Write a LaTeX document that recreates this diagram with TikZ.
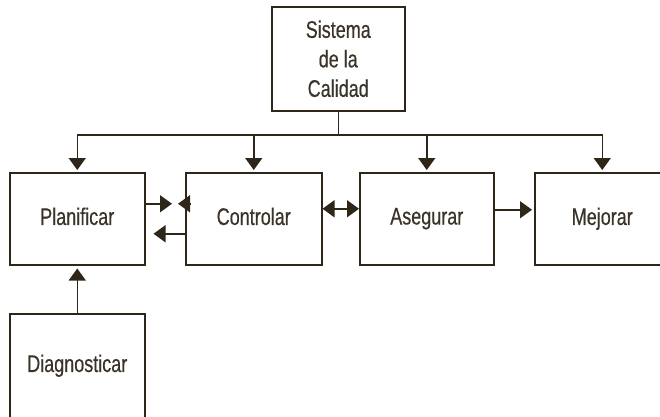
\documentclass[tikz,border=0pt]{standalone}
\usepackage{fontspec}
\setmainfont[FakeStretch=0.75,FakeBold=0.4]{Liberation Sans}
\usetikzlibrary{arrows.meta}
\definecolor{ln}{HTML}{2E2618}
\definecolor{tx}{HTML}{3A3329}
\newcommand{\up}[1]{\raisebox{5pt}{#1}}
\begin{document}
\begin{tikzpicture}[x=1pt,y=-1pt,
  box/.style={draw=ln, line width=1.5pt, minimum width=135pt, minimum height=92pt, inner sep=0pt, text=tx, font=\fontsize{24}{29.5}\selectfont, align=center, anchor=north west},
  conn/.style={draw=ln, line width=1.5pt},
  arr/.style={conn, -{Triangle[length=12pt,width=17pt]}},
  darr/.style={conn, {Triangle[length=12pt,width=17pt]}-{Triangle[length=12pt,width=17pt]}},
]
\useasboundingbox (0,0) rectangle (660,416);
\node[box, minimum width=133pt, minimum height=104pt] (sis) at (271,6) {Sistema\\de la\\Calidad};
\node[box] (pla) at (9,172) {\up{Planificar}};
\node[box, minimum width=136pt] (con) at (185,172) {\up{Controlar}};
\node[box, minimum width=134pt] (ase) at (359,172) {\up{Asegurar}};
\node[box] (mej) at (534,172) {\up{Mejorar}};
\node[box, minimum height=104pt] (dia) at (9,313) {Diagnosticar};
% bus
\coordinate (bus) at (335,135);
\draw[conn] (sis.south) -- (sis.south |- bus);
\draw[conn, line cap=rect] (pla.north |- bus) -- (mej.north |- bus);
\foreach \n in {pla,con,ase,mej}{
  \draw[arr] (\n.north |- bus) -- ([yshift=2pt]\n.north);
}
% horizontal links
\draw[arr] ([yshift=15pt]pla.east) -- ([xshift=-13pt,yshift=15pt]con.west);
\draw[arr] ([xshift=5pt,yshift=15pt]con.west) -- ([xshift=-7pt,yshift=15pt]con.west);
\draw[arr] ([yshift=-15pt]con.west) -- ([xshift=8pt,yshift=-15pt]pla.east);
\draw[darr] ([yshift=10pt]con.east) -- ([yshift=10pt]ase.west);
\draw[arr] ([yshift=9pt]ase.east) -- ([xshift=-2pt,yshift=9pt]mej.west);
\draw[arr] (dia.north) -- ([yshift=-3pt]pla.south);
\end{tikzpicture}
\end{document}
